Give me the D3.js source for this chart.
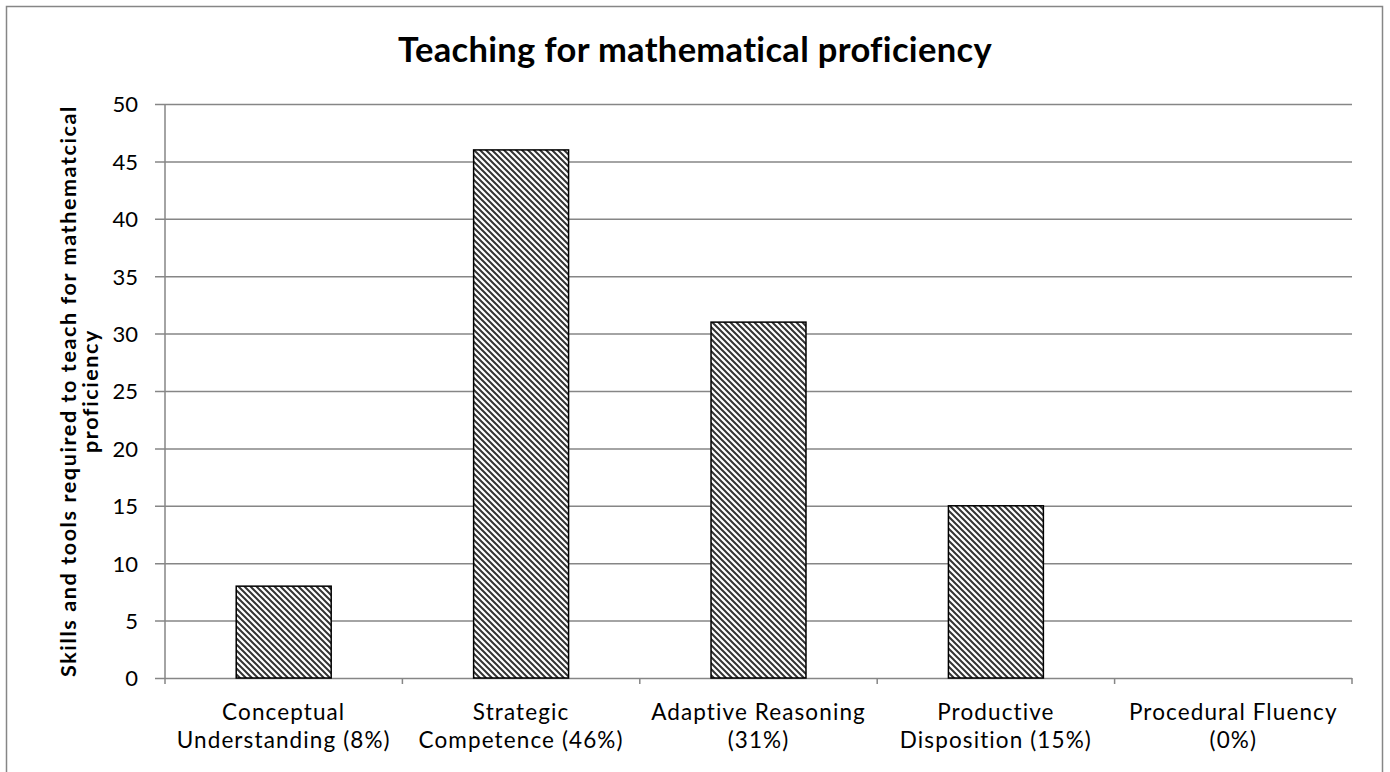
<!DOCTYPE html>
<html>
<head>
<meta charset="utf-8">
<script src="https://cdn.jsdelivr.net/npm/d3@7"></script>
<style>
  body { margin: 0; background: #fff; }
  text { font-family: Lato, "Open Sans", sans-serif; fill: #000; }
</style>
</head>
<body>
<svg id="chart" width="1390" height="772"></svg>
<script>
// data
const categories = [
    ["Conceptual", "Understanding (8%)"],
    ["Strategic", "Competence (46%)"],
    ["Adaptive Reasoning", "(31%)"],
    ["Productive", "Disposition (15%)"],
    ["Procedural Fluency", "(0%)"]
];
const values = [8, 46, 31, 15, 0];
const yTicks = [0, 5, 10, 15, 20, 25, 30, 35, 40, 45, 50];
const title = "Teaching for mathematical proficiency";
const yTitle = ["Skills and tools required to teach for mathematcical", "proficiency"];

const W = 1390, H = 772;
const plot = { left: 165, right: 1352, top: 104, bottom: 678 };

const svg = d3.select('#chart');

// stretch a text node to a wanted width with letter-spacing
function fitWidth(node, target) {
    const len = node.getComputedTextLength();
    const n = node.textContent.length;
    const ls = (target - len) / n;
    d3.select(node).style('letter-spacing', ls + 'px');
    return ls;
}

// hatch fill
const defs = svg.append('defs');
const pat = defs.append('pattern')
    .attr('id', 'hatch')
    .attr('patternUnits', 'userSpaceOnUse')
    .attr('width', 6).attr('height', 6);
pat.append('rect').attr('width', 6).attr('height', 6).attr('fill', '#fff');
pat.append('path')
    .attr('d', 'M-1,-1 L7,7 M-4,2 L2,8 M4,-2 L8,2')
    .attr('stroke', '#333')
    .attr('stroke-width', 2);

// chart border
svg.append('rect')
    .attr('x', 6.5).attr('y', 6.5)
    .attr('width', 1376).attr('height', H)
    .attr('fill', 'none')
    .attr('stroke', '#868686')
    .attr('stroke-width', 1.5);

const x = d3.scaleBand()
    .domain(d3.range(categories.length))
    .range([plot.left, plot.right])
    .paddingInner(0.6)
    .paddingOuter(0.3);
const xEdge = d3.scaleLinear()
    .domain([0, categories.length])
    .range([plot.left, plot.right]);
const y = d3.scaleLinear().domain([0, 50]).range([plot.bottom, plot.top]);

// gridlines + y ticks
const yAxis = d3.axisLeft(y)
    .tickValues(yTicks)
    .tickSize(-(plot.right - plot.left))
    .tickPadding(27)
    .tickFormat(d3.format('d'));
const gy = svg.append('g')
    .attr('transform', `translate(${plot.left},0)`)
    .call(yAxis);
gy.select('.domain').remove();
gy.selectAll('.tick line')
    .attr('x1', -10)
    .attr('stroke', '#868686')
    .attr('stroke-width', 1.5);
gy.selectAll('.tick text')
    .style('font-size', '22px')
    .style('font-family', 'Lato, sans-serif')
    .attr('dy', '0.36em');

// y axis line
svg.append('line')
    .attr('x1', plot.left).attr('x2', plot.left)
    .attr('y1', plot.top).attr('y2', plot.bottom + 6)
    .attr('stroke', '#868686').attr('stroke-width', 1.5);

// x axis boundary ticks
svg.append('g').selectAll('line')
    .data(d3.range(1, categories.length + 1))
    .join('line')
    .attr('x1', d => xEdge(d)).attr('x2', d => xEdge(d))
    .attr('y1', plot.bottom).attr('y2', plot.bottom + 6)
    .attr('stroke', '#868686').attr('stroke-width', 1.5);

// bars
svg.append('g').selectAll('rect')
    .data(values)
    .join('rect')
    .attr('x', (d, i) => x(i))
    .attr('y', d => y(d))
    .attr('width', x.bandwidth())
    .attr('height', d => y(0) - y(d))
    .attr('fill', 'url(#hatch)')
    .attr('stroke', d => d > 0 ? '#000' : 'none')
    .attr('stroke-width', 1.5);

// category labels
const catSize = '22.5px';
const cat = svg.append('g').selectAll('text')
    .data(categories)
    .join('text')
    .attr('text-anchor', 'middle')
    .style('font-size', catSize);
cat.each(function (lines, i) {
    const cx = (xEdge(i) + xEdge(i + 1)) / 2;
    d3.select(this).selectAll('tspan')
        .data(lines)
        .join('tspan')
        .attr('x', cx)
        .attr('y', (d, j) => 720 + j * 28)
        .text(d => d);
});
// same spacing for all labels, taken from "Understanding (8%)"
const probe = svg.append('text').style('font-size', catSize).text(categories[0][1]);
const catLs = fitWidth(probe.node(), 214);
probe.remove();
cat.style('letter-spacing', catLs + 'px');

// title
const t = svg.append('text')
    .attr('x', 695).attr('y', 62)
    .attr('text-anchor', 'middle')
    .style('font-size', '34.5px')
    .style('font-weight', 'bold')
    .text(title);
fitWidth(t.node(), 594);

// y title
const yt = svg.append('g')
    .attr('transform', `translate(0,${(plot.top + plot.bottom) / 2}) rotate(-90)`)
    .selectAll('text')
    .data(yTitle)
    .join('text')
    .attr('text-anchor', 'middle')
    .style('font-size', '21.5px')
    .style('font-weight', 'bold')
    .attr('x', 0)
    .attr('y', (d, j) => 76 + j * 22)
    .text(d => d);
const ytLs = fitWidth(yt.nodes()[0], 572);
yt.style('letter-spacing', ytLs + 'px');
</script>
</body>
</html>
